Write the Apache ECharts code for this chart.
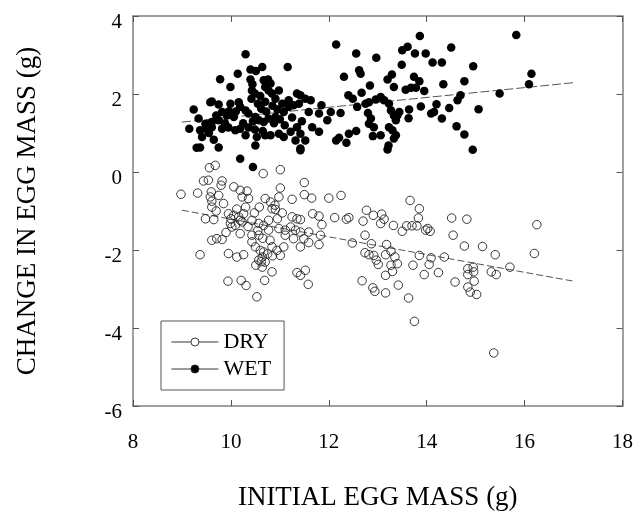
<!DOCTYPE html>
<html><head><meta charset="utf-8">
<script src="https://cdn.jsdelivr.net/npm/echarts@6/dist/echarts.min.js"></script>
<style>html,body{margin:0;padding:0;background:#fff}#c{width:636px;height:517px}</style>
</head><body><div id="c"></div>
<script>
// ---- data ----
const seriesNames = ['DRY', 'WET'];
const xAxisTitle = 'INITIAL EGG MASS (g)';
const yAxisTitle = 'CHANGE IN EGG MASS (g)';
const xMin = 8, xMax = 18, xStep = 2;
const yMin = -6, yMax = 4, yStep = 2;

const wetX = [10.30,11.16,10.40,10.51,10.64,10.14,9.78,9.99,10.40,10.44,10.43,10.49,10.42,10.67,10.76,10.81,10.70,10.77,10.84,10.91,
  10.98,11.35,11.18,11.05,11.52,9.24,9.34,9.58,9.75,9.99,10.16,10.19,10.30,10.36,9.82,9.92,10.06,9.75,9.61,9.48,
  10.50,10.57,10.67,10.77,10.91,11.08,11.18,11.28,11.39,9.15,9.37,9.48,9.61,9.82,9.95,10.09,10.19,10.36,10.49,10.30,
  10.53,10.70,10.81,10.98,9.41,9.65,9.37,9.75,10.50,10.19,10.45,11.08,11.22,11.35,11.32,11.42,9.61,9.96,10.55,10.62,
  10.72,10.85,10.95,10.45,10.88,11.00,10.25,9.88,10.60,10.70,11.10,11.25,9.55,9.70,10.10,10.65,11.45,9.30,
  12.15,13.86,15.83,12.56,12.97,13.50,13.61,13.76,13.98,14.50,14.12,14.31,13.49,14.95,12.62,12.65,12.31,13.29,13.20,13.74,
  13.85,12.84,13.33,13.57,13.68,13.78,13.95,14.34,14.77,16.14,16.09,15.49,12.67,12.40,12.49,12.82,12.96,13.06,13.13,13.23,
  12.58,12.75,13.27,13.33,13.37,13.40,13.44,13.64,13.63,13.88,14.09,14.20,14.15,14.31,14.46,14.63,14.69,15.06,14.61,14.77,
  14.94,12.80,12.86,12.82,12.92,12.90,13.06,13.23,13.30,13.37,13.33,13.22,13.20,12.41,12.56,12.15,12.21,12.36,11.42,11.63,
  11.85,12.04,12.24,11.59,11.80,11.97,11.66,11.42,11.52,11.80,11.42];
const wetY = [3.02,2.69,2.63,2.59,2.69,2.52,2.38,2.18,2.37,2.25,2.09,2.01,1.88,2.35,2.37,2.27,2.18,2.09,2.01,1.88,
  2.09,2.01,1.84,1.75,1.88,1.60,1.37,1.79,1.73,1.75,1.79,1.67,1.58,1.50,1.54,1.45,1.41,1.33,1.28,1.24,
  1.41,1.33,1.28,1.37,1.41,1.54,1.67,1.71,1.75,1.11,1.07,1.11,1.15,1.11,1.14,1.07,1.11,1.14,1.09,0.94,
  0.90,0.94,0.94,0.98,0.90,0.83,0.63,0.63,0.68,0.34,0.13,0.90,1.03,1.15,0.81,0.60,1.81,1.56,1.75,1.62,
  1.55,1.70,1.60,1.30,1.25,1.35,1.25,1.25,1.95,1.80,1.20,1.40,1.00,1.45,1.55,1.05,1.30,0.62,
  3.27,3.49,3.51,3.04,2.93,3.12,3.21,3.04,3.04,3.19,2.81,2.81,2.75,2.71,2.61,2.52,2.44,2.50,2.37,2.44,
  2.33,2.22,2.18,2.11,2.16,2.16,2.08,2.25,2.33,2.52,2.25,2.01,2.03,1.97,1.88,1.79,1.86,1.92,1.84,1.75,
  1.67,1.75,1.58,1.45,1.33,1.45,1.54,1.60,1.38,1.68,1.50,1.74,1.54,1.37,1.64,1.84,1.97,1.61,1.17,0.96,
  0.57,1.51,1.37,1.24,1.15,0.92,0.94,1.15,1.07,0.94,0.86,0.68,0.58,0.98,1.05,0.81,0.88,0.75,1.97,1.84,
  1.71,1.54,1.51,1.54,1.50,1.33,1.15,0.98,0.81,1.03,0.56];

const dryX = [9.56,9.68,10.66,11.01,8.98,9.32,9.44,9.54,9.82,9.80,9.60,9.58,9.61,9.61,10.06,10.19,10.33,10.36,10.23,9.85,
  10.70,10.81,10.90,10.84,10.91,11.01,10.98,11.25,9.48,9.65,9.95,10.06,10.16,10.26,10.19,9.99,10.09,10.23,10.02,10.19,
  10.43,10.57,10.67,10.77,10.43,10.57,10.77,10.98,11.11,11.28,9.61,9.71,9.82,10.43,10.50,10.60,10.67,10.64,10.70,10.57,
  10.51,10.64,10.84,10.94,11.08,11.01,9.37,9.95,10.12,10.26,10.84,9.94,10.21,10.31,10.69,10.53,11.35,11.11,11.25,11.35,
  11.50,11.50,11.65,12.00,12.25,11.67,11.80,11.86,11.42,11.22,11.32,11.42,11.59,11.49,11.59,11.42,11.83,11.80,12.12,12.36,
  12.41,12.48,12.77,12.70,12.91,13.08,13.13,13.06,12.74,12.87,13.32,13.50,13.59,13.70,13.80,13.66,13.85,13.83,13.98,13.18,
  12.74,12.82,12.92,12.97,13.01,13.16,13.27,13.35,13.40,13.27,13.30,13.16,12.68,12.90,12.94,13.16,13.42,13.63,11.52,11.42,
  11.58,14.02,14.07,14.51,14.82,14.54,16.25,14.77,15.14,15.40,16.20,13.85,14.09,14.36,14.05,13.95,14.24,15.70,14.84,14.95,
  14.84,14.96,14.97,14.84,14.89,15.02,15.32,15.42,14.58,15.37,13.75,13.72,
  10.12,10.30,10.00,10.35,9.90,10.55,10.65,10.80,10.75,10.62,10.85,10.48,10.58,11.05,10.95,9.75,9.70];
const dryY = [0.11,0.17,-0.04,0.06,-0.57,-0.54,-0.23,-0.21,-0.23,-0.34,-0.51,-0.64,-0.75,-0.90,-0.38,-0.47,-0.49,-0.68,-0.64,-0.81,
  -0.68,-0.77,-0.85,-0.94,-0.96,-0.41,-0.64,-0.70,-1.20,-1.22,-1.07,-1.11,-1.15,-1.07,-1.24,-1.32,-1.37,-1.28,-1.41,-1.58,
  -1.24,-1.32,-1.37,-1.24,-1.62,-1.62,-1.49,-1.45,-1.62,-1.71,-1.75,-1.71,-1.73,-1.79,-1.92,-2.01,-2.05,-2.18,-2.31,-2.26,
  -2.39,-2.44,-1.92,-2.01,-1.92,-2.14,-2.12,-2.09,-2.18,-2.12,-2.56,-2.80,-2.78,-2.91,-2.78,-3.20,-2.58,-1.49,-1.15,-1.20,
  -0.27,-0.58,-0.67,-0.67,-0.60,-1.07,-1.13,-1.35,-1.22,-1.41,-1.49,-1.54,-1.54,-1.71,-1.81,-1.92,-1.62,-1.86,-1.17,-1.21,
  -1.17,-1.82,-0.98,-1.26,-1.11,-1.08,-1.21,-1.32,-1.62,-1.84,-1.37,-1.52,-1.38,-1.38,-1.38,-0.73,-0.94,-1.18,-1.49,-1.86,
  -2.07,-2.12,-2.14,-2.26,-2.37,-2.12,-2.03,-2.18,-2.35,-2.39,-2.55,-2.65,-2.79,-2.97,-3.06,-3.10,-2.90,-3.23,-2.52,-2.65,
  -2.88,-1.45,-1.52,-1.18,-1.21,-1.62,-1.35,-1.90,-1.91,-2.12,-2.09,-2.14,-2.20,-2.18,-2.37,-2.63,-2.58,-2.44,-2.48,-2.44,
  -2.63,-2.56,-2.80,-2.95,-3.08,-3.14,-2.56,-2.63,-2.82,-4.64,-3.83,-2.39,
  -0.95,-0.90,-1.20,-1.40,-1.55,-1.50,-1.70,-1.75,-2.10,-2.30,-2.15,-1.05,-0.90,-1.05,-1.20,-0.60,-1.00];

const dryFitX = [9, 17], dryFitY = [-0.98, -2.80];
const wetFitX = [9, 17], wetFitY = [1.28, 2.29];

// ---- chart ----
const FONT = 'Liberation Serif';
const pairs = (xs, ys) => xs.map((x, i) => [x, ys[i]]);
const axisLineStyle = { color: '#808080', width: 1.5 };
const tickStyle = { color: '#555', width: 1 };
const iconPath = 'path://M0,4L19.5,4M27.5,4L47,4M27.5,4A4,4,0,1,1,19.5,4A4,4,0,1,1,27.5,4Z';

const chart = echarts.init(document.getElementById('c'), null, { renderer: 'canvas' });
chart.setOption({
  animation: false,
  backgroundColor: '#fff',
  grid: { left: 133, right: 13, top: 16, bottom: 111, containLabel: false },
  legend: {
    orient: 'vertical', left: 161, top: 321,
    padding: [10, 13, 10, 10], itemGap: 5,
    borderColor: '#555', borderWidth: 1,
    itemWidth: 47, itemHeight: 8,
    textStyle: { fontFamily: FONT, fontSize: 22, color: '#000', lineHeight: 22 },
    data: [
      { name: seriesNames[0], icon: iconPath, itemStyle: { color: 'rgba(0,0,0,0)', borderColor: '#222', borderWidth: 0.9 } },
      { name: seriesNames[1], icon: iconPath, itemStyle: { color: '#000', borderColor: '#222', borderWidth: 0.9 } }
    ]
  },
  xAxis: [
    { type: 'value', min: xMin, max: xMax, interval: xStep, position: 'bottom',
      axisLine: { show: true, onZero: false, lineStyle: axisLineStyle },
      axisTick: { show: true, inside: true, length: 6, lineStyle: tickStyle },
      axisLabel: { fontFamily: FONT, fontSize: 21, color: '#000', margin: 26 },
      splitLine: { show: false },
      name: xAxisTitle, nameLocation: 'middle', nameGap: 78,
      nameTextStyle: { fontFamily: FONT, fontSize: 27, color: '#000' } },
    { type: 'value', min: xMin, max: xMax, interval: xStep, position: 'top',
      axisLine: { show: true, onZero: false, lineStyle: axisLineStyle },
      axisTick: { show: true, inside: true, length: 6, lineStyle: tickStyle },
      axisLabel: { show: false }, splitLine: { show: false } }
  ],
  yAxis: [
    { type: 'value', min: yMin, max: yMax, interval: yStep, position: 'left',
      axisLine: { show: true, onZero: false, lineStyle: axisLineStyle },
      axisTick: { show: true, inside: true, length: 6, lineStyle: tickStyle },
      axisLabel: { fontFamily: FONT, fontSize: 21, color: '#000', margin: 11, verticalAlign: 'top', lineHeight: 12 },
      splitLine: { show: false },
      name: yAxisTitle, nameLocation: 'middle', nameGap: 92, nameRotate: 90,
      nameTextStyle: { fontFamily: FONT, fontSize: 27, color: '#000' } },
    { type: 'value', min: yMin, max: yMax, interval: yStep, position: 'right',
      axisLine: { show: true, onZero: false, lineStyle: axisLineStyle },
      axisTick: { show: true, inside: true, length: 6, lineStyle: tickStyle },
      axisLabel: { show: false }, splitLine: { show: false } }
  ],
  series: [
    { name: seriesNames[0] + ' fit', type: 'line', data: pairs(dryFitX, dryFitY), showSymbol: false, silent: true,
      lineStyle: { color: '#555', width: 1, type: [7, 3] }, z: 1 },
    { name: seriesNames[1] + ' fit', type: 'line', data: pairs(wetFitX, wetFitY), showSymbol: false, silent: true,
      lineStyle: { color: '#555', width: 1, type: [9, 3] }, z: 1 },
    { name: seriesNames[0], type: 'scatter', data: pairs(dryX, dryY), symbol: 'circle', symbolSize: 8.5,
      itemStyle: { color: 'rgba(0,0,0,0)', borderColor: '#222', borderWidth: 0.9, opacity: 1 }, z: 3 },
    { name: seriesNames[1], type: 'scatter', data: pairs(wetX, wetY), symbol: 'circle', symbolSize: 8.5,
      itemStyle: { color: '#000', opacity: 1 }, z: 3 }
  ]
});
</script>
</body></html>
